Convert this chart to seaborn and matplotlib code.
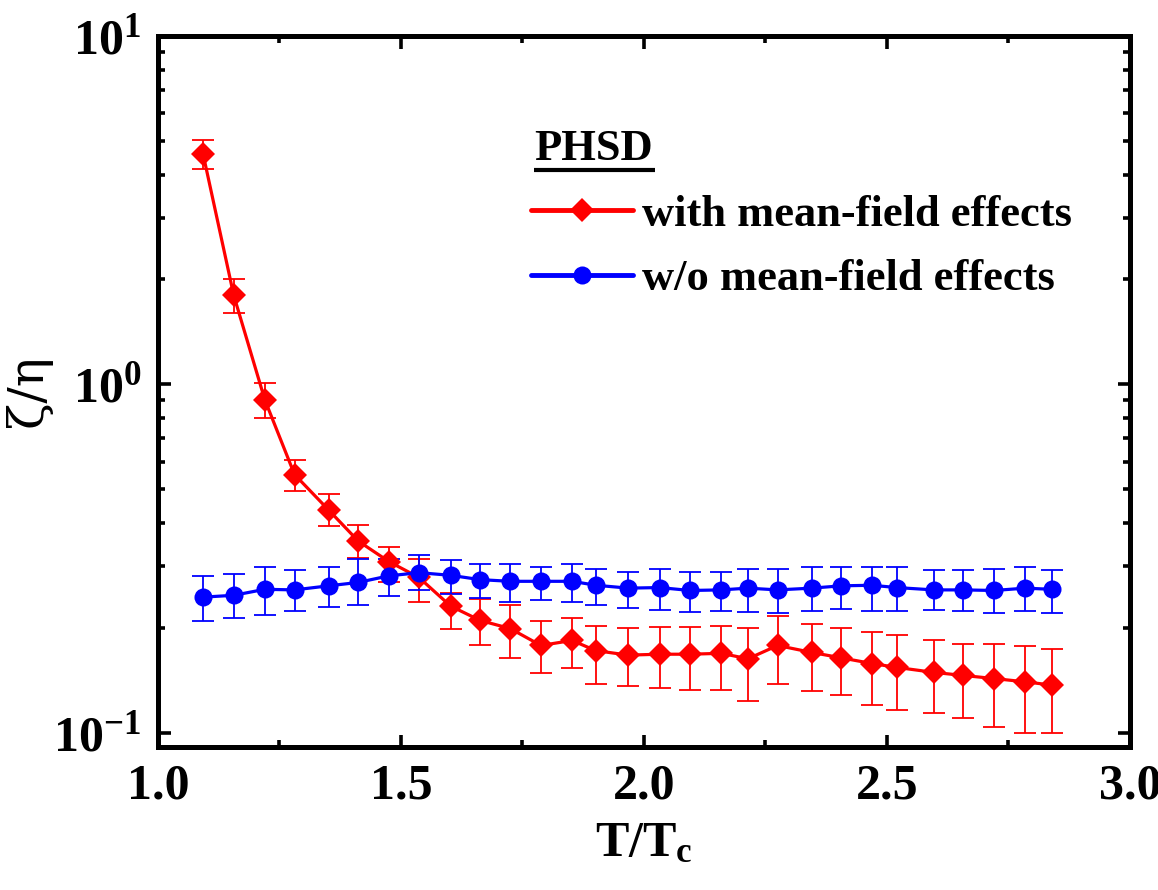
import numpy as np
import pandas as pd
import matplotlib
matplotlib.use("Agg")
import matplotlib.pyplot as plt
from matplotlib.ticker import LogLocator, FixedLocator, NullFormatter
from matplotlib.lines import Line2D
import seaborn as sns

# ---- data ----
t_over_tc = [1.093, 1.156, 1.220, 1.281, 1.351, 1.412, 1.475, 1.537, 1.602, 1.663,
             1.725, 1.788, 1.852, 1.901, 1.968, 2.032, 2.095, 2.159, 2.214, 2.275,
             2.345, 2.406, 2.469, 2.520, 2.596, 2.657, 2.721, 2.784, 2.839]

mf_val = [4.57, 1.80, 0.902, 0.551, 0.436, 0.355, 0.31, 0.279, 0.231, 0.210,
          0.199, 0.178, 0.184, 0.172, 0.167, 0.168, 0.168, 0.169, 0.163, 0.178,
          0.170, 0.164, 0.158, 0.154, 0.149, 0.146, 0.143, 0.140, 0.137]
mf_hi = [5.04, 2.00, 1.01, 0.608, 0.486, 0.394, 0.342, 0.315, 0.252, 0.242,
         0.232, 0.209, 0.213, 0.203, 0.200, 0.201, 0.201, 0.203, 0.200, 0.216,
         0.205, 0.200, 0.195, 0.191, 0.185, 0.180, 0.180, 0.177, 0.174]
mf_lo = [4.16, 1.60, 0.80, 0.494, 0.392, 0.318, 0.270, 0.238, 0.198, 0.179,
         0.164, 0.148, 0.153, 0.138, 0.136, 0.134, 0.133, 0.133, 0.123, 0.138,
         0.132, 0.128, 0.120, 0.116, 0.114, 0.110, 0.104, 0.100, 0.100]

nomf_val = [0.245, 0.248, 0.258, 0.257, 0.264, 0.270, 0.282, 0.288, 0.283, 0.275,
            0.272, 0.272, 0.272, 0.265, 0.260, 0.261, 0.256, 0.257, 0.260, 0.257,
            0.260, 0.264, 0.265, 0.261, 0.257, 0.257, 0.256, 0.260, 0.258]
nomf_hi = [0.282, 0.285, 0.299, 0.294, 0.299, 0.315, 0.315, 0.324, 0.313, 0.305,
           0.305, 0.299, 0.305, 0.296, 0.290, 0.296, 0.290, 0.290, 0.296, 0.296,
           0.299, 0.299, 0.299, 0.299, 0.293, 0.293, 0.296, 0.299, 0.293]
nomf_lo = [0.209, 0.214, 0.218, 0.223, 0.229, 0.232, 0.247, 0.256, 0.250, 0.243,
           0.238, 0.241, 0.238, 0.232, 0.228, 0.225, 0.222, 0.223, 0.222, 0.221,
           0.223, 0.227, 0.224, 0.223, 0.225, 0.223, 0.221, 0.223, 0.221]

series_labels = ["with mean-field effects", "w/o mean-field effects"]
legend_title = "PHSD"
x_ticks = [1.0, 1.5, 2.0, 2.5, 3.0]
x_tick_labels = ["1.0", "1.5", "2.0", "2.5", "3.0"]
y_ticks = [0.1, 1.0, 10.0]
y_tick_labels = [r"$10^{-1}$", r"$10^{0}$", r"$10^{1}$"]

# ---- style ----
sns.set_style("ticks")
plt.rcParams["font.family"] = ["Liberation Serif", "DejaVu Serif"]
plt.rcParams["font.weight"] = "bold"
plt.rcParams["text.color"] = "black"
plt.rcParams["axes.labelcolor"] = "black"
plt.rcParams["xtick.color"] = "black"
plt.rcParams["ytick.color"] = "black"
plt.rcParams["mathtext.fontset"] = "custom"
plt.rcParams["mathtext.rm"] = "Liberation Serif:bold"
plt.rcParams["mathtext.it"] = "Liberation Serif:italic:bold"
plt.rcParams["mathtext.bf"] = "Liberation Serif:bold"

fig = plt.figure(figsize=(11.58, 8.90), dpi=100)
ax = fig.add_axes([0.1364, 0.1607, 0.8394, 0.7989])

df = pd.DataFrame({
    "T": t_over_tc * 2,
    "val": mf_val + nomf_val,
    "series": [series_labels[0]] * len(t_over_tc) + [series_labels[1]] * len(t_over_tc),
})

red = "#ff0000"
blue = "#0000ff"

# error bars
ax.errorbar(t_over_tc, mf_val,
            yerr=[np.array(mf_val) - np.array(mf_lo), np.array(mf_hi) - np.array(mf_val)],
            fmt="none", ecolor=red, elinewidth=1.3, capsize=8, capthick=1.3, zorder=2)
ax.errorbar(t_over_tc, nomf_val,
            yerr=[np.array(nomf_val) - np.array(nomf_lo), np.array(nomf_hi) - np.array(nomf_val)],
            fmt="none", ecolor=blue, elinewidth=1.3, capsize=8, capthick=1.3, zorder=2)

sns.lineplot(data=df, x="T", y="val", hue="series", style="series",
             palette=[red, blue], markers=["D", "o"], dashes=False,
             linewidth=2.3, markeredgewidth=0, ax=ax, legend=False, zorder=3)
for ln, ms in zip(ax.lines[-2:], [12, 13]):
    ln.set_markersize(ms)

ax.set_yscale("log")
ax.set_xlim(1.0, 3.0)
ax.set_ylim(0.091, 10.0)

ax.xaxis.set_major_locator(FixedLocator(x_ticks))
ax.set_xticklabels(x_tick_labels)
ax.xaxis.set_minor_locator(FixedLocator([1.25, 1.75, 2.25, 2.75]))
ax.yaxis.set_major_locator(FixedLocator(y_ticks))
ax.set_yticklabels(y_tick_labels)
ax.yaxis.set_minor_locator(LogLocator(base=10, subs=np.arange(2, 10)))
ax.yaxis.set_minor_formatter(NullFormatter())

ax.tick_params(which="both", direction="in", top=True, right=True, width=2.6, color="black")
ax.tick_params(which="major", length=9, labelsize=36, pad=12)
ax.tick_params(which="minor", length=5)
for lab in ax.get_xticklabels() + ax.get_yticklabels():
    lab.set_fontweight("bold")

for sp in ax.spines.values():
    sp.set_linewidth(3.6)
    sp.set_color("black")

ax.set_xlabel(r"T/T$_{\mathregular{c}}$", fontsize=36, fontweight="bold", labelpad=8)
ax.set_ylabel("ζ/η", fontsize=35, fontweight="normal", labelpad=1,
              family=["DejaVu Serif"])

# legend
handles = [Line2D([], [], color=red, marker="D", markersize=12, linewidth=3.5, markeredgewidth=0),
           Line2D([], [], color=blue, marker="o", markersize=13, linewidth=3.5, markeredgewidth=0)]
leg = ax.legend(handles, series_labels, loc="upper left", bbox_to_anchor=(0.384, 0.777),
                frameon=False, fontsize=32, handlelength=2.3, handletextpad=0.2,
                labelspacing=0.55, borderpad=0, borderaxespad=0)
for t in leg.get_texts():
    t.set_fontweight("bold")
ax.text(0.387, 0.826, legend_title, transform=ax.transAxes, fontsize=32,
        fontweight="bold", ha="left", va="baseline")
ax.plot([0.387, 0.511], [0.8115, 0.8115], transform=ax.transAxes, color="black",
        linewidth=3, solid_capstyle="butt", clip_on=False)

fig.savefig("out.png", dpi=100)
